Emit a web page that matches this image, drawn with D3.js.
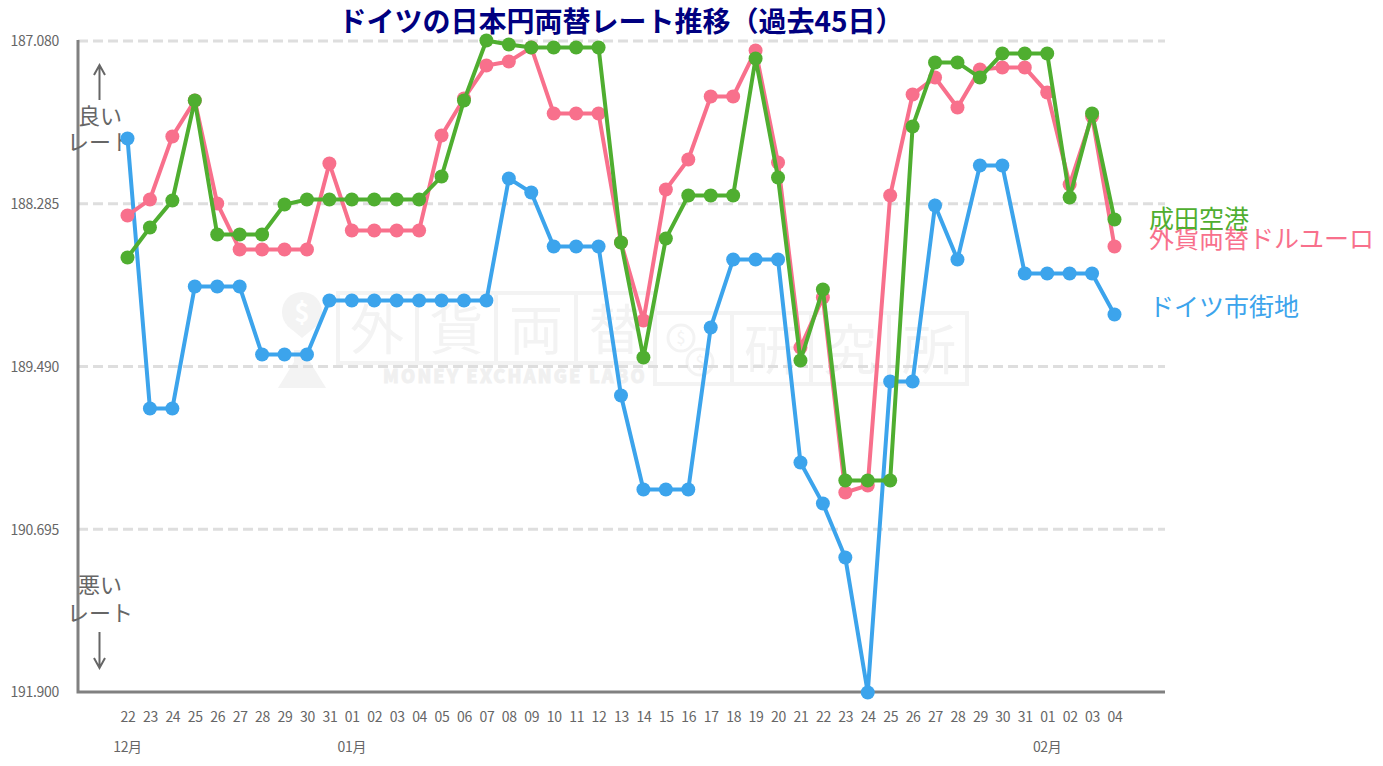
<!DOCTYPE html>
<html lang="ja">
<head>
<meta charset="utf-8">
<script src="https://cdn.jsdelivr.net/npm/d3@7/dist/d3.min.js"></script>
<style>
  html, body { margin: 0; background: #fff; }
  svg { display: block; font-family: "Noto Sans CJK JP", "Noto Sans", sans-serif; }
  .axis text { fill: #666; font-size: 14px; letter-spacing: -0.3px; font-family: "Noto Sans CJK JP", "Noto Sans", sans-serif; }
  .axis path, .axis line { stroke: none; }
</style>
</head>
<body>
<svg id="chart" width="1383" height="766"></svg>
<script>
var days = ['22','23','24','25','26','27','28','29','30','31',
  '01','02','03','04','05','06','07','08','09','10','11','12','13','14','15','16','17','18','19','20','21','22','23','24','25','26','27','28','29','30','31',
  '01','02','03','04'];
var months = [[0,'12月'],[10,'01月'],[41,'02月']];
var yTicks = [187.080,188.285,189.490,190.695,191.900];

var town = [187.798,189.797,189.797,188.894,188.894,188.894,189.398,189.398,189.398,188.998,
  188.998,188.998,188.998,188.998,188.998,188.998,188.998,188.094,188.198,188.598,188.598,188.598,189.701,190.397,190.397,190.397,189.198,188.694,188.694,188.694,190.197,190.501,190.901,191.900,189.597,189.597,188.294,188.694,187.998,187.998,188.798,
  188.798,188.798,188.798,189.101];
var dealer = [188.368,188.250,187.783,187.517,188.279,188.620,188.620,188.620,188.620,187.983,
  188.479,188.479,188.479,188.479,187.776,187.502,187.258,187.228,187.124,187.613,187.613,187.613,188.568,189.146,188.176,187.954,187.487,187.487,187.147,187.976,189.346,188.975,190.419,190.367,188.220,187.472,187.347,187.569,187.287,187.273,187.273,
  187.458,188.139,187.635,188.598];
var narita = [188.679,188.457,188.257,187.517,188.509,188.509,188.509,188.287,188.250,188.250,
  188.250,188.250,188.250,188.250,188.080,187.517,187.073,187.102,187.124,187.124,187.124,187.124,188.568,189.420,188.539,188.220,188.220,188.220,187.206,188.087,189.442,188.916,190.330,190.330,190.330,187.709,187.235,187.235,187.347,187.169,187.169,
  187.169,188.235,187.613,188.398];

var seriesList = [
  {name:'ドイツ市街地', values:town, color:'#3ca4ec', labelY:307},
  {name:'外貨両替ドルユーロ', values:dealer, color:'#f8708c', labelY:239},
  {name:'成田空港', values:narita, color:'#4fae30', labelY:219}
];

var svg = d3.select('#chart');
var x = d3.scalePoint().domain(d3.range(days.length)).range([127.5,1114.5]);
var y = d3.scaleLinear().domain([187.08,191.9]).range([41.5,692.5]);

// watermark
var wm = svg.append('g').attr('fill','none').attr('stroke','#f3f3f3').attr('stroke-width',4);
[[338,293,79],[417,293,79],[496,293,80],[576,293,79],[655,313,77],[732,313,79],[811,313,78],[889,313,78]].forEach(function(b,i){
  wm.append('rect').attr('x',b[0]).attr('y',b[1]).attr('width',b[2]).attr('height',i<4?70:71);
});
['外','貨','両','替'].forEach(function(t,i){
  wm.append('text').attr('x',377+i*79.5).attr('y',350).attr('text-anchor','middle')
    .attr('font-size',54).attr('fill','#f3f3f3').attr('stroke','none').text(t);
});
['研','究','所'].forEach(function(t,i){
  wm.append('text').attr('x',771+i*79).attr('y',370).attr('text-anchor','middle')
    .attr('font-size',54).attr('fill','#f3f3f3').attr('stroke','none').text(t);
});
wm.append('text').attr('x',515).attr('y',383).attr('text-anchor','middle')
  .attr('font-size',18).attr('font-weight',900).attr('letter-spacing',2.2).attr('fill','#f0f0f0')
  .attr('stroke','#f0f0f0').attr('stroke-width',0.8).text('MONEY EXCHANGE LABO');
wm.append('circle').attr('cx',302).attr('cy',312).attr('r',20).attr('fill','#f3f3f3').attr('stroke','none');
wm.append('path').attr('d','M290 328L302 338L314 328Z').attr('fill','#f3f3f3').attr('stroke','none');
wm.append('path').attr('d','M294 350H310V362L326 388H278L294 362Z').attr('fill','#f3f3f3').attr('stroke','none');
wm.append('text').attr('x',302).attr('y',322).attr('text-anchor','middle').attr('font-size',26)
  .attr('font-weight',700).attr('fill','#fff').attr('stroke','none').text('$');
[[681,338],[700,362]].forEach(function(c){
  wm.append('circle').attr('cx',c[0]).attr('cy',c[1]).attr('r',13).attr('stroke-width',3);
  wm.append('text').attr('x',c[0]).attr('y',c[1]+6).attr('text-anchor','middle').attr('font-size',16)
    .attr('fill','#f3f3f3').attr('stroke','none').text('$');
});

// grid
svg.append('g').selectAll('line').data(yTicks.slice(0,4)).join('line')
  .attr('x1',78).attr('x2',1165)
  .attr('y1',function(d){return y(d)-0.5;}).attr('y2',function(d){return y(d)-0.5;})
  .attr('stroke','#dedede').attr('stroke-width',3).attr('stroke-dasharray','10,5');

// axes
var yAxis = d3.axisLeft(y).tickValues(yTicks).tickSize(0).tickPadding(0).tickFormat(d3.format('.3f'));
svg.append('g').attr('class','axis').attr('transform','translate(59,0)').call(yAxis);

var xAxis = d3.axisBottom(x).tickSize(0).tickPadding(0).tickFormat(function(i){return days[i];});
svg.append('g').attr('class','axis').attr('transform','translate(0,712)').call(xAxis);

svg.append('g').attr('class','axis').selectAll('text').data(months).join('text')
  .attr('x',function(d){return x(d[0]);}).attr('y',752)
  .attr('text-anchor','middle').text(function(d){return d[1];});

svg.append('path').attr('d','M78 40V692H1165').attr('fill','none').attr('stroke','#808080').attr('stroke-width',3);

// side notes
var notes = [['良い',116],['レート',142],['悪い',585],['レート',613]];
svg.append('g').selectAll('text').data(notes).join('text')
  .attr('x',100).attr('y',function(d){return d[1]+8;}).attr('text-anchor','middle')
  .attr('font-size',22).attr('fill','#666').text(function(d){return d[0];});
svg.append('path').attr('d','M99.5 100V65M94 75L99.5 65L105 75M99.5 632V668M94 658L99.5 668L105 658')
  .attr('fill','none').attr('stroke','#666').attr('stroke-width',2);

// series
var line = d3.line().x(function(d,i){return x(i);}).y(function(d){return y(d);});
seriesList.forEach(function(s){
  var g = svg.append('g');
  g.append('path').datum(s.values).attr('d',line).attr('fill','none').attr('stroke',s.color).attr('stroke-width',4);
  g.selectAll('circle').data(s.values).join('circle')
    .attr('cx',function(d,i){return x(i);}).attr('cy',function(d){return y(d);}).attr('r',7).attr('fill',s.color);
  g.append('text').attr('x',1149).attr('y',s.labelY+9).attr('font-size',25).attr('fill',s.color).text(s.name);
});

svg.append('text').attr('x',621).attr('y',32).attr('text-anchor','middle')
  .attr('font-size',28).attr('font-weight',700).attr('fill','#000080').text('ドイツの日本円両替レート推移（過去45日）');
</script>
</body>
</html>
